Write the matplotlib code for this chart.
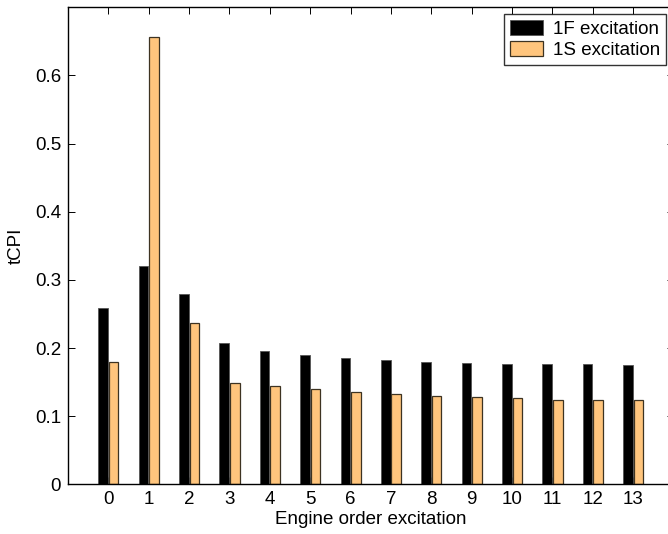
import numpy as np
import matplotlib
matplotlib.use("Agg")
import matplotlib.pyplot as plt

plt.rcParams['font.family'] = ['Liberation Sans', 'DejaVu Sans']

orders = list(range(14))
tick_labels = [str(o) for o in orders]
f1_values = [0.259, 0.321, 0.280, 0.208, 0.196, 0.190, 0.186, 0.182, 0.180, 0.178, 0.177, 0.176, 0.176, 0.175]
s1_values = [0.179, 0.656, 0.237, 0.148, 0.144, 0.140, 0.136, 0.132, 0.130, 0.128, 0.126, 0.124, 0.124, 0.123]
series_names = ["1F excitation", "1S excitation"]

FS = 13.5
fig = plt.figure(figsize=(6.68, 5.34), dpi=100)
W, H = 668, 534
left, right, top, bottom = 68, 673.6, 7.3, 484.3
ax = fig.add_axes([left / W, 1 - bottom / H, (right - left) / W, (bottom - top) / H])

x = np.arange(len(orders))
w = 0.24
ax.bar(x - w / 2 - 0.01, f1_values, width=w, color='black', edgecolor='#555555',
       linewidth=0.6, label=series_names[0], zorder=2)
ax.bar(x + w / 2 + 0.01, s1_values, width=w, color='#ffc57d', edgecolor='#3d3322',
       linewidth=0.9, label=series_names[1], zorder=2)

ax.set_xlim(-1, 14)
ax.set_ylim(0, 0.7)
ax.set_xticks(x)
ax.set_xticklabels(tick_labels)
ax.set_yticks([0, 0.1, 0.2, 0.3, 0.4, 0.5, 0.6])
ax.set_yticklabels(['0', '0.1', '0.2', '0.3', '0.4', '0.5', '0.6'])
ax.tick_params(direction='in', length=5, width=0.7, top=True, right=True,
               labelsize=FS, pad=5, colors='black')
for s in ax.spines.values():
    s.set_linewidth(1.0)
    s.set_color('black')

ax.set_xlabel('Engine order excitation', fontsize=FS, labelpad=2)
ax.set_ylabel('tCPI', fontsize=FS, labelpad=7)

leg = ax.legend(loc='upper right',
                bbox_to_anchor=((665.7 - left) / (right - left), 1 - (14 - top) / (bottom - top)),
                borderaxespad=0, fontsize=FS, frameon=True, fancybox=False,
                handlelength=1.75, handleheight=0.85, handletextpad=0.55,
                borderpad=0.3, labelspacing=0.2)
leg.get_frame().set_edgecolor('black')
leg.get_frame().set_linewidth(1.0)

fig.savefig('out.png', dpi=100)
